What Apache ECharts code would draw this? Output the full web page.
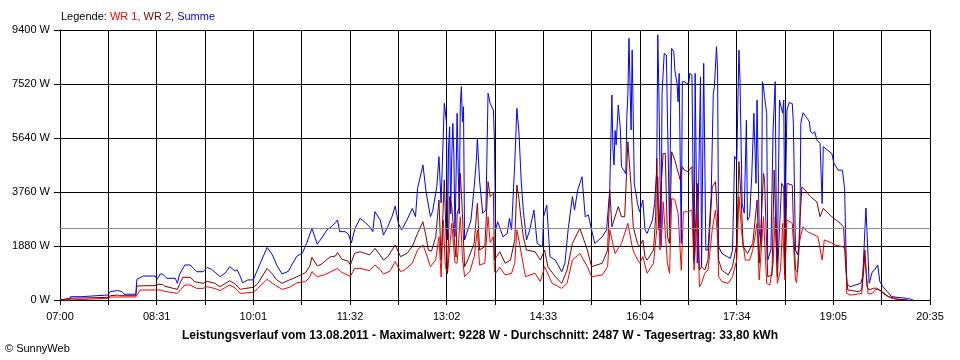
<!DOCTYPE html>
<html><head><meta charset="utf-8">
<script src="https://cdn.jsdelivr.net/npm/echarts@6.0.0/dist/echarts.min.js"></script>
<style>html,body{margin:0;padding:0;background:#fff}#c{width:960px;height:360px}</style>
</head><body><div id="c"></div>
<script>
// x values: minutes after 07:00; y values: W
const xLabels = ['07:00','08:31','10:01','11:32','13:02','14:33','16:04','17:34','19:05','20:35'];
const yMin = 0, yMax = 9400, yStep = 1880;
const xSpanMinutes = 815;
const average = 2487;

const summe = [[0,0],[9,0],[10,115],[20,115],[21,175],[45,175],[47,290],[54,330],[55,383],[58,290],[60,200],[71,200],[72,720],[78,835],[89,835],[91,720],[94,905],[96,905],[100,755],[108,755],[110,580],[112,900],[117,1220],[122,1220],[125,1100],[128,985],[134,985],[138,1130],[142,1070],[150,810],[155,950],[159,1160],[164,1010],[166,1050],[169,810],[171,600],[176,700],[181,700],[185,1050],[194,1830],[199,1570],[203,1220],[208,905],[214,1000],[218,1280],[222,1530],[227,1625],[231,1970],[236,2495],[241,1940],[245,2150],[250,2435],[255,2575],[258,2690],[260,2785],[262,2380],[267,2380],[270,2300],[273,1990],[276,2450],[278,2610],[281,2840],[286,2700],[290,2550],[293,2380],[295,3075],[300,2785],[303,2260],[307,2550],[311,2900],[314,3270],[317,2670],[320,2435],[325,2785],[330,3190],[333,2900],[335,3890],[340,4700],[343,3750],[347,2900],[349,3080],[353,3950],[355,4990],[357,3380],[360,6845],[361,6550],[362,6200],[363,2090],[364,5330],[365,6030],[366,3000],[367,4990],[368,6150],[369,5000],[370,2205],[371,4200],[372,6500],[373,4640],[374,3000],[375,6800],[376,7425],[377,6200],[378,6730],[379,2090],[381,2320],[385,2785],[388,3935],[390,4860],[391,5630],[393,4175],[396,3020],[399,3130],[401,7195],[403,6845],[406,6610],[407,5570],[408,2435],[410,2725],[415,2200],[419,2320],[421,2840],[423,2435],[426,4760],[428,6670],[430,5800],[432,4175],[434,3130],[437,2090],[440,2435],[444,3130],[447,1970],[452,1850],[453,2900],[456,3300],[459,1510],[464,1390],[470,985],[473,1280],[476,2440],[480,3600],[482,3130],[485,3830],[489,4290],[492,2900],[495,2960],[498,2440],[501,1970],[508,2200],[512,2440],[515,3830],[517,7135],[518,5220],[519,4700],[520,5900],[521,5400],[523,6790],[525,5920],[526,4640],[528,4520],[530,4400],[531,6380],[532,7190],[533,9110],[535,5920],[536,8700],[538,4060],[541,3360],[543,3070],[546,3480],[548,2440],[550,2320],[555,2780],[557,3360],[559,4520],[560,9230],[561,7310],[563,1860],[564,7190],[566,8580],[568,8530],[569,8470],[571,2440],[572,6500],[573,8760],[575,8640],[576,8000],[578,7540],[579,6900],[580,7890],[582,1970],[583,7600],[585,7600],[587,7540],[589,7540],[590,7890],[592,7830],[594,1280],[595,7890],[597,1280],[598,1280],[600,7770],[601,1160],[603,8240],[605,1740],[607,1740],[610,3600],[612,7190],[613,7420],[615,8820],[616,8000],[617,1860],[620,1620],[625,1510],[628,1450],[630,1740],[632,5000],[634,4870],[636,8700],[637,7660],[639,3360],[641,3020],[643,6260],[644,2780],[646,2900],[648,4290],[650,6500],[652,4060],[653,6960],[655,2440],[657,1860],[658,7600],[659,7420],[660,7080],[662,6500],[663,1390],[666,1740],[668,5920],[670,7600],[671,2780],[672,1280],[674,6960],[675,6900],[677,6500],[678,6960],[679,2440],[681,6610],[683,6870],[686,6840],[687,6150],[689,1740],[691,1570],[693,2090],[694,6150],[696,6520],[700,6320],[702,6210],[703,5860],[705,5800],[707,5860],[709,5570],[712,5450],[714,3360],[715,5340],[719,5220],[723,5100],[725,4760],[729,4520],[733,4520],[735,3880],[736,2200],[737,580],[740,460],[745,520],[750,580],[752,810],[754,2440],[755,3200],[757,1510],[758,580],[761,990],[763,1040],[766,1220],[768,640],[771,460],[775,290],[779,120],[785,90],[793,60],[798,20],[799,0]];

const wr2 = [[0,0],[9,60],[10,93],[45,93],[47,150],[54,170],[56,150],[71,150],[72,490],[89,500],[92,545],[96,545],[98,480],[110,370],[112,550],[115,790],[122,790],[126,640],[134,580],[138,650],[145,580],[150,464],[155,580],[159,670],[164,560],[169,370],[173,400],[181,440],[185,560],[194,1100],[199,900],[203,700],[208,580],[215,700],[222,810],[230,950],[234,1180],[236,1485],[241,1185],[245,1250],[253,1500],[258,1530],[260,1650],[264,1420],[270,1350],[272,1220],[276,1625],[281,1680],[286,1620],[290,1570],[295,1800],[300,1560],[303,1390],[307,1500],[314,1915],[319,1510],[320,1500],[325,1620],[330,1860],[335,2320],[340,2725],[343,2200],[345,1740],[348,1700],[352,2200],[355,3480],[357,1390],[360,4180],[362,1800],[363,930],[365,3600],[367,3250],[370,1860],[371,1500],[372,3000],[374,3250],[375,4410],[377,3000],[379,1160],[382,1390],[388,1970],[391,3370],[393,1740],[398,1860],[401,4120],[403,3600],[406,3720],[407,1390],[409,1510],[412,1680],[417,1280],[422,1390],[426,2090],[428,4000],[430,3500],[431,3130],[434,2200],[437,1740],[445,1680],[450,1390],[454,1740],[457,1160],[464,810],[470,580],[475,1040],[480,1970],[487,2500],[494,1740],[498,1160],[508,1280],[513,1740],[515,3830],[517,2550],[520,2900],[523,3250],[526,2900],[529,2900],[532,5510],[535,3940],[537,2550],[541,1970],[543,1860],[546,2090],[548,1510],[550,1390],[556,1740],[558,2900],[559,4930],[561,2440],[563,3840],[565,5100],[567,5100],[569,2200],[571,1970],[573,5160],[576,4870],[578,4580],[581,4180],[583,4640],[585,4520],[588,4470],[592,4640],[594,1390],[597,4060],[599,1040],[601,1160],[604,1040],[607,1390],[611,3940],[614,4120],[616,2900],[617,1390],[620,1040],[626,870],[630,1160],[634,1970],[636,4820],[638,3600],[640,1860],[644,1620],[649,1970],[653,3480],[655,1280],[659,4410],[660,4180],[663,810],[667,870],[669,4520],[672,810],[674,2440],[676,4060],[678,3940],[679,900],[681,4060],[686,4000],[687,2670],[689,1040],[691,980],[693,2670],[695,3940],[698,3830],[703,3600],[709,3420],[712,2900],[715,3190],[723,2900],[729,2730],[734,2550],[736,1160],[738,350],[748,290],[751,350],[754,1740],[756,460],[758,350],[762,410],[765,410],[770,290],[776,120],[785,30],[794,0]];

const wr1 = [[0,0],[9,0],[10,60],[45,60],[47,104],[71,104],[75,348],[94,348],[98,300],[110,232],[117,522],[122,522],[128,405],[134,405],[138,464],[145,400],[150,325],[155,440],[159,522],[164,420],[169,232],[181,268],[185,400],[194,720],[199,580],[208,370],[215,440],[222,600],[230,640],[234,800],[236,985],[241,810],[248,880],[260,1100],[264,960],[272,820],[276,1100],[281,1100],[290,1020],[295,1220],[300,1050],[303,905],[309,1000],[314,1335],[319,990],[323,1050],[330,1280],[335,1750],[340,1915],[343,1620],[347,1160],[352,1400],[355,2200],[357,800],[359,2785],[361,1160],[363,930],[367,2670],[370,1300],[372,1280],[375,2900],[377,1500],[379,810],[384,1000],[388,1500],[391,2435],[393,1220],[398,1280],[401,2900],[403,2000],[406,2200],[407,1000],[408,930],[412,1140],[417,870],[423,930],[426,1280],[428,2435],[431,1860],[436,810],[445,930],[450,640],[454,1160],[461,580],[470,405],[475,580],[480,1390],[487,1620],[494,1160],[498,810],[508,870],[513,1160],[515,2440],[520,1620],[526,1970],[532,2670],[536,1860],[538,1620],[543,1280],[546,1510],[550,930],[556,1280],[559,2440],[560,4290],[562,1740],[564,2440],[565,3420],[569,1280],[571,930],[573,3540],[576,3480],[579,3020],[582,1040],[584,3070],[588,3070],[592,3130],[594,1040],[597,3000],[599,460],[601,580],[604,930],[607,1040],[611,2440],[614,3130],[616,2200],[617,810],[620,640],[626,580],[630,810],[634,1390],[636,3600],[639,2200],[642,1390],[646,1390],[649,1740],[653,2670],[655,700],[659,2900],[662,580],[665,520],[668,1280],[670,2900],[672,580],[675,1040],[677,2670],[679,700],[681,2785],[686,2670],[689,700],[690,600],[693,2090],[696,2550],[700,2380],[707,2260],[710,2200],[714,1390],[716,2090],[723,1990],[726,1910],[733,1860],[736,1740],[737,230],[741,170],[751,230],[754,1510],[757,210],[761,230],[764,370],[768,350],[773,170],[779,60],[785,20],[794,0]];

const FONT = '"Liberation Sans", Arial, sans-serif';
const chart = echarts.init(document.getElementById('c'), null, {renderer:'canvas'});
const lineSeries = (name, data, color) => ({
  name, type:'line', xAxisIndex:0, yAxisIndex:0, data,
  showSymbol:false, symbol:'none', animation:false, silent:true,
  lineStyle:{color, width:1}, itemStyle:{color}
});
const s = lineSeries('Summe', summe, '#0000ff');
s.markLine = {silent:true, symbol:'none', label:{show:false}, animation:false,
  lineStyle:{color:'#8c8c8c', type:'solid', width:1}, data:[{yAxis:average}]};
const rich = (color) => ({color, fontSize:11, fontWeight:'normal', fontFamily:FONT});
chart.setOption({
  animation:false,
  backgroundColor:'#ffffff',
  textStyle:{fontFamily:FONT},
  title:[
    {text:'{k|Legende: }{a|WR 1, }{b|WR 2, }{c|Summe}', left:61, top:11, padding:0,
     textStyle:{fontWeight:'normal', fontSize:11,
       rich:{k:rich('#000000'), a:rich('#ff0000'), b:rich('#800000'), c:rich('#0000ff')}}},
    {text:'Leistungsverlauf vom 13.08.2011 - Maximalwert: 9228 W - Durchschnitt: 2487 W - Tagesertrag: 33,80 kWh',
     left:480, top:330, padding:0, textAlign:'center',
     textStyle:{fontSize:12, fontWeight:'bold', color:'#000', fontFamily:FONT}},
    {text:'© SunnyWeb', left:5, top:343, padding:0,
     textStyle:{fontSize:11, fontWeight:'normal', color:'#000', fontFamily:FONT}}
  ],
  grid:{left:60, right:30, top:30, bottom:60, containLabel:false},
  xAxis:[
    {type:'value', min:0, max:xSpanMinutes, show:false},
    {type:'value', min:0, max:(xLabels.length-1)*2, interval:1, position:'bottom',
     axisLine:{show:true, lineStyle:{color:'#000', width:1}},
     axisTick:{show:true, length:5, lineStyle:{color:'#000', width:1}},
     splitLine:{show:true, lineStyle:{color:'#000', width:1}},
     axisLabel:{color:'#000', fontSize:11, fontFamily:FONT, margin:11,
       showMinLabel:true, showMaxLabel:true, hideOverlap:false,
       formatter:(v)=> (Math.round(v)%2===0 ? xLabels[Math.round(v)/2] : '')}}
  ],
  yAxis:{type:'value', min:yMin, max:yMax, interval:yStep,
    axisLine:{show:true, lineStyle:{color:'#000', width:1}},
    axisTick:{show:true, length:6, lineStyle:{color:'#000', width:1}},
    splitLine:{show:true, lineStyle:{color:'#000', width:1}},
    axisLabel:{color:'#000', fontSize:11, fontFamily:FONT, margin:10, formatter:(v)=> String(v) + ' W'}},
  series:[ s, lineSeries('WR 1', wr1, '#ff0000'), lineSeries('WR 2', wr2, '#800000') ]
});
</script>
</body></html>
